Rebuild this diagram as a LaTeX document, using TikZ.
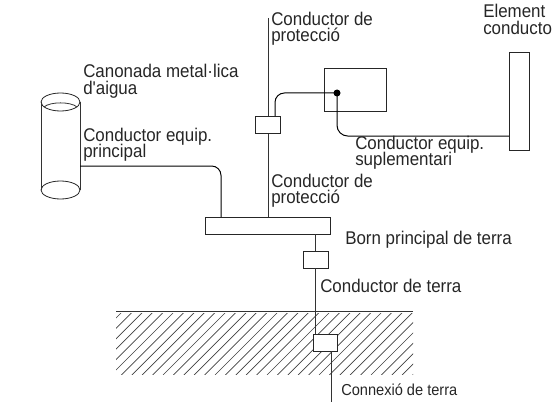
\documentclass[tikz,border=0pt]{standalone}
\usepackage{fontspec}
\usetikzlibrary{shapes.geometric}
\setmainfont{Liberation Sans}
\newfontfamily\narrowfont[FakeStretch=0.92]{Liberation Sans}
\tikzset{
  lbl/.style={anchor=base west,inner sep=0pt,align=left,font=\narrowfont\fontsize{13.8}{14}\selectfont,text=black!85},
  lblsm/.style={anchor=base west,inner sep=0pt,font=\narrowfont\fontsize{11.9}{13}\selectfont,text=black!85},
  wire/.style={line width=0.6pt,black!80},
  wiredark/.style={line width=0.75pt,black},
  boxn/.style={draw=black!85,line width=0.6pt,fill=white,inner sep=0pt,outer sep=0pt,rectangle},
  hatchline/.style={line width=0.5pt,black!75}
}
\begin{document}
\begin{tikzpicture}[x=0.75pt,y=-0.75pt]
\useasboundingbox (0,0) rectangle (553,403);
% ground hatch
\begin{scope}
\clip (116,313) rectangle (413,374);
\foreach \i in {0,...,35} {
  \draw[hatchline] ({123+\i*10.4},311) -- ++(-64,64);
}
\end{scope}
\coordinate (gl) at (116,311);
\coordinate (gr) at (413,311);
\draw[wire] (gl) -- (gr);
% coordinates
\coordinate (ptop) at (268,18);
\coordinate (eqA) at (80,166);
\coordinate (lowEnd) at (331,402);
% cylinder
\node[draw=black!85,line width=0.6pt,ellipse,minimum width=39*0.75pt,minimum height=18*0.75pt,inner sep=0pt,outer sep=0pt] (cyltop) at (60.5,102) {};
\node[draw=black!85,line width=0.6pt,ellipse,minimum width=39*0.75pt,minimum height=18*0.75pt,inner sep=0pt,outer sep=0pt] (cylbot) at (60.5,190) {};
\draw[wire] (cyltop.west) -- (cylbot.west);
\draw[wire] (cyltop.east) -- (cylbot.east);
\draw[wire] (44,107) .. controls (50,101.5) and (71,101.5) .. (77,107);
% boxes
\node[boxn,minimum width=125*0.75pt,minimum height=17*0.75pt] (born) at (267.5,225.5) {};
\draw[wire] (ptop) -- (born.north -| ptop);
\node[boxn,minimum width=25*0.75pt,minimum height=17*0.75pt] (b1) at (267.5,124.5) {};
\node[boxn,minimum width=25*0.75pt,minimum height=17*0.75pt] (b2) at (315.5,259.5) {};
\node[boxn,minimum width=24*0.75pt,minimum height=17*0.75pt] (b3) at (325,342.5) {};
\node[boxn,minimum width=62*0.75pt,minimum height=43*0.75pt] (pan) at (355,89.5) {};
\node[boxn,minimum width=20*0.75pt,minimum height=98*0.75pt] (elem) at (519,101) {};
\node[circle,fill=black,minimum size=7*0.75pt,inner sep=0pt] (dot) at (337,93) {};
% connectors
\draw[wiredark,rounded corners=7pt] (eqA) -| (221,217);
\draw[wiredark,rounded corners=7pt] (275,116) |- (dot.center);
\draw[wiredark,rounded corners=8pt] (dot.center) |- (elem.west |- 0,136);
\draw[wire] (315,234) -- (315,251);
\draw[wire] (315,268) -- (315,334);
\draw[wire] (331,351) -- (lowEnd);
% labels
\node[lbl] (t1) at (271,26) {Conductor de};
\node[lbl] (t2) at (271,42) {protecció};
\node[lbl] (t3) at (83,78) {Canonada metal·lica};
\node[lbl] (t4) at (83,94) {d'aigua};
\node[lbl] (t5) at (83,141) {Conductor equip.};
\node[lbl] (t6) at (83,157) {principal};
\node[lbl] (t7) at (271,187) {Conductor de};
\node[lbl] (t8) at (271,203) {protecció};
\node[lbl] (t9) at (483,18) {Element};
\node[lbl] (t10) at (483,35) {conducto};
\node[lbl] (t11) at (355,149) {Conductor equip.};
\node[lbl] (t12) at (355,165) {suplementari};
\node[lbl] (t13) at (345,244) {Born principal de terra};
\node[lbl] (t14) at (320,292) {Conductor de terra};
\node[lblsm] (t15) at (341,395) {Connexió de terra};
\end{tikzpicture}
\end{document}
